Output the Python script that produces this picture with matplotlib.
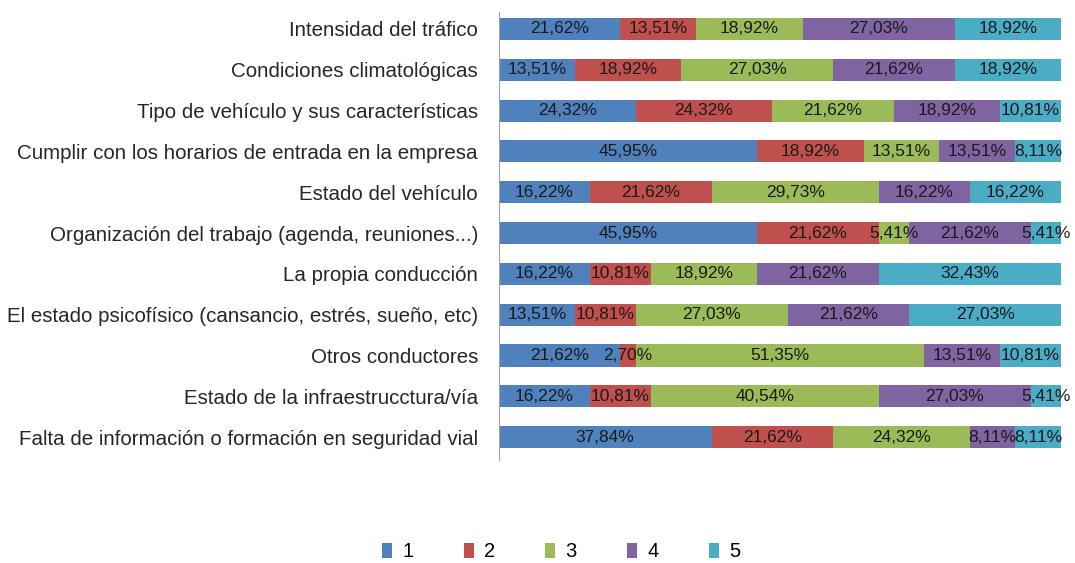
import matplotlib.pyplot as plt
import numpy as np

plt.rcParams['font.family'] = ['Liberation Sans', 'DejaVu Sans']

categories = [
    "Intensidad del tráfico",
    "Condiciones climatológicas",
    "Tipo de vehículo y sus características",
    "Cumplir con los horarios de entrada en la empresa",
    "Estado del vehículo",
    "Organización del trabajo (agenda, reuniones...)",
    "La propia conducción",
    "El estado psicofísico (cansancio, estrés, sueño, etc)",
    "Otros conductores",
    "Estado de la infraestrucctura/vía",
    "Falta de información o formación en seguridad vial",
]
s1 = [21.62, 13.51, 24.32, 45.95, 16.22, 45.95, 16.22, 13.51, 21.62, 16.22, 37.84]
s2 = [13.51, 18.92, 24.32, 18.92, 21.62, 21.62, 10.81, 10.81, 2.70, 10.81, 21.62]
s3 = [18.92, 27.03, 21.62, 13.51, 29.73, 5.41, 18.92, 27.03, 51.35, 40.54, 24.32]
s4 = [27.03, 21.62, 18.92, 13.51, 16.22, 21.62, 21.62, 21.62, 13.51, 27.03, 8.11]
s5 = [18.92, 18.92, 10.81, 8.11, 16.22, 5.41, 32.43, 27.03, 10.81, 5.41, 8.11]
series_names = ["1", "2", "3", "4", "5"]
colors = ["#4F81BD", "#C0504D", "#9BBB59", "#8064A2", "#4BACC6"]

fig = plt.figure(figsize=(10.75, 5.63), dpi=100)
ax = fig.add_axes([0.464, 0.183, 0.523, 0.796])

y = np.arange(len(categories))
left = np.zeros(len(categories))
for name, vals, c in zip(series_names, [s1, s2, s3, s4, s5], colors):
    vals = np.array(vals)
    bars = ax.barh(y, vals, left=left, height=0.54, color=c, label=name)
    labels = [f"{v:.2f}%".replace(".", ",") for v in vals]
    ax.bar_label(bars, labels=labels, label_type='center', fontsize=12.5, color='#1a1a1a')
    left += vals

ax.set_xlim(0, 100)
ax.set_ylim(10.56, -0.42)
ax.set_yticks(y)
ax.set_yticklabels(categories, fontsize=14.8, color='#262626')
ax.tick_params(axis='y', length=0, pad=15)
ax.set_xticks([])
for s in ['top', 'right', 'bottom']:
    ax.spines[s].set_visible(False)
ax.spines['left'].set_color('#A0A0A0')

fig.legend(loc='center', bbox_to_anchor=(0.522, 0.02), ncol=5, frameon=False,
           fontsize=14.5, handlelength=0.5, handleheight=0.8, columnspacing=2.5,
           handletextpad=0.5)

fig.savefig("out.png", dpi=100)
